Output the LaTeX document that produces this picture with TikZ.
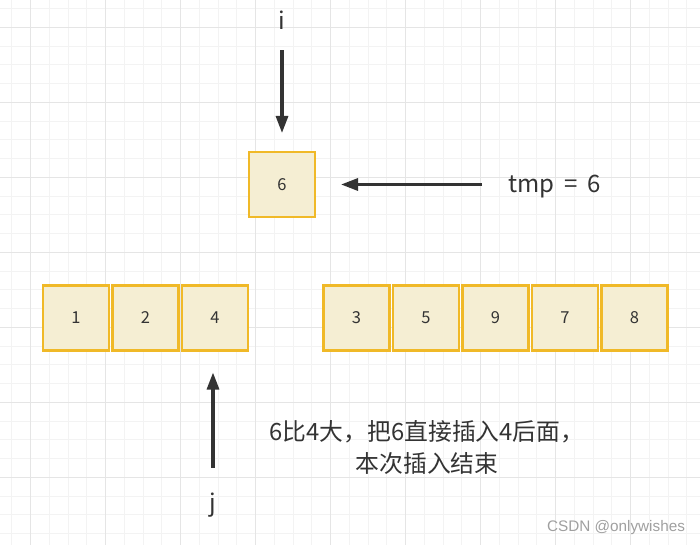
\documentclass[tikz,border=0pt]{standalone}
\usepackage{fontspec}
\setmainfont{Noto Sans CJK SC}
\newfontfamily\marksans{Liberation Sans}
\usetikzlibrary{arrows.meta,positioning}
\definecolor{cellfill}{HTML}{F5EED3}
\definecolor{celledge}{HTML}{F0B928}
\definecolor{inkgray}{HTML}{333333}
\definecolor{minorgrid}{HTML}{F3F3F3}
\definecolor{majorgrid}{HTML}{E5E5E5}
\tikzset{
  minor line/.style={
    draw=minorgrid,
    line width=1pt,
  },
  major line/.style={
    draw=majorgrid,
    line width=1pt,
  },
  cell/.style={
    rectangle,
    minimum width=66pt,
    minimum height=65pt,
    inner sep=0pt,
    outer sep=0pt,
    line width=2.8pt,
    draw=celledge,
    fill=cellfill,
    text=inkgray,
    font=\fontsize{16.5}{18}\selectfont,
  },
  pointer/.style={
    -{Triangle[length=17pt,width=12pt]},
    draw=inkgray,
    line width=3.1pt,
  },
  marker/.style={
    inner sep=0pt,
    text=inkgray,
    font=\fontsize{24}{27}\selectfont,
  },
  remark/.style={
    align=center,
    inner sep=0pt,
    text=inkgray,
    font=\fontsize{23.8}{32}\selectfont,
  },
}
\begin{document}
\begin{tikzpicture}[x=1pt,y=-1pt]
  \useasboundingbox (0,0) rectangle (700,545);

  % Background paper grid.
  \foreach \k in {-1,...,36}{
    \draw[minor line] ({30.7+18.75*\k},0) -- ++(0,545);
  }
  \foreach \k in {-1,...,29}{
    \draw[minor line] (0,{27.3+18.75*\k}) -- ++(700,0);
  }
  \foreach \k in {0,...,8}{
    \draw[major line] ({30.7+75*\k},0) -- ++(0,545);
  }
  \foreach \k in {0,...,7}{
    \draw[major line] (0,{27.3+75*\k}) -- ++(700,0);
  }

  % Element being inserted.
  \node[cell] (tmpcell) at (282,184.5) {6};

  % Sorted part on the left.
  \node[cell] (c1) at (76,318) {1};
  \node[cell, right=3.5pt of c1] (c2) {2};
  \node[cell, right=3.5pt of c2] (c4) {4};

  % Remaining elements on the right.
  \node[cell] (c3) at (356.5,318) {3};
  \node[cell, right=3.5pt of c3] (c5) {5};
  \node[cell, right=3.5pt of c5] (c9) {9};
  \node[cell, right=3.5pt of c9] (c7) {7};
  \node[cell, right=3.5pt of c7] (c8) {8};

  % Index markers and the temporary value.
  \node[marker] (ilabel) at (282,20) {i};
  \node[marker] (jlabel) at (213,505) {j};
  \node[marker, anchor=west] (tmplabel) at (508,187) {tmp\hspace{10pt}=\hspace{10pt}6};

  \draw[pointer, shorten <=21pt, shorten >=19pt] (ilabel.south) -- (tmpcell.north);
  \draw[pointer, shorten <=26pt, shorten >=26pt] (tmplabel.west |- tmpcell.east) -- (tmpcell.east);
  \draw[pointer, shorten <=25pt, shorten >=22pt] (jlabel.north) -- (jlabel.north |- c4.south);

  % Explanation of this step.
  \node[remark] (note) at (427,447) {6比4大，把6直接插入4后面，\\本次插入结束};

  \node[text=gray!75, font=\marksans\fontsize{15.3}{17}\selectfont] (mark) at (616,528) {CSDN @onlywishes};
\end{tikzpicture}
\end{document}
